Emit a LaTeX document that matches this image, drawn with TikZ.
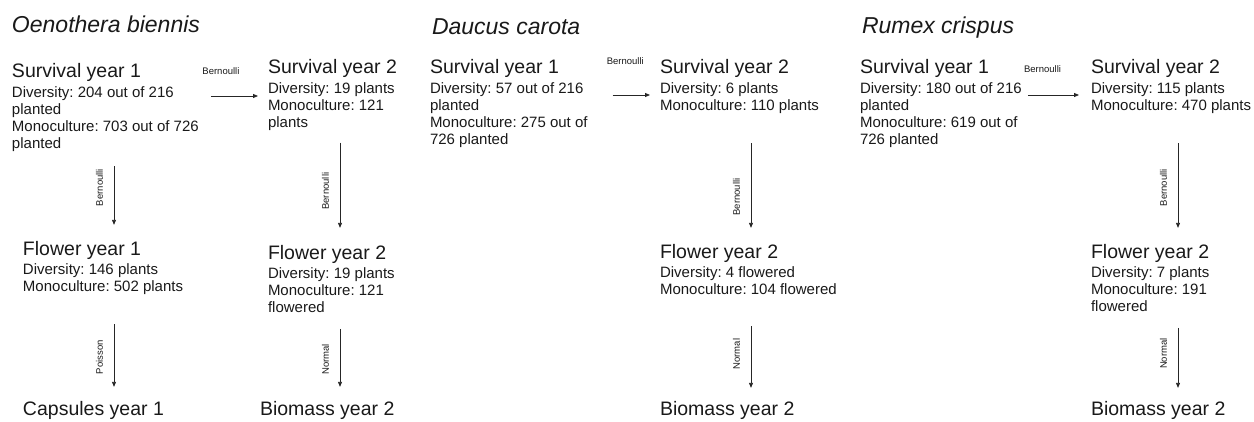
\documentclass[tikz,border=0pt]{standalone}
\usepackage{fontspec}
\setmainfont{Liberation Sans}
\usetikzlibrary{arrows.meta}
\frenchspacing

\begin{document}
\begin{tikzpicture}[
  x=1pt, y=-1pt,
  every node/.style={inner sep=0pt, outer sep=0pt, text=black!90},
  species/.style={anchor=base west, font=\fontsize{23}{26}\selectfont\itshape},
  stage/.style  ={anchor=base west, font=\fontsize{19.5}{22}\selectfont},
  % counts: anchored at the baseline of the last line
  counts/.style ={anchor=base west, align=left, font=\fontsize{15}{17.3}\selectfont},
  dist/.style   ={font=\fontsize{9.5}{10}\selectfont},
  hdist/.style  ={dist, anchor=base},
  vdist/.style  ={dist, xshift=-11pt, rotate=90, anchor=south},
  ar/.style     ={-{Triangle[length=5pt,width=4pt]}, line width=0.8pt, draw=black!85},
]
  \useasboundingbox (0,0) rectangle (1254,421);

  % ---- Oenothera biennis ----
  \node[species] (oe)     at (12,32)  {Oenothera biennis};
  \node[stage]   (oe-s1)  at (12,77)  {Survival year 1};
  \node[counts]  (oe-s1n) at (12,148.9) {Diversity: 204 out of 216\\planted\\Monoculture: 703 out of 726\\planted};
  \node[stage]   (oe-s2)  at (268,73) {Survival year 2};
  \node[counts]  (oe-s2n) at (268,127.6) {Diversity: 19 plants\\Monoculture: 121\\plants};
  \node[stage]   (oe-f1)  at (23,255) {Flower year 1};
  \node[counts]  (oe-f1n) at (23,291.3) {Diversity: 146 plants\\Monoculture: 502 plants};
  \node[stage]   (oe-f2)  at (268,259) {Flower year 2};
  \node[counts]  (oe-f2n) at (268,312.6) {Diversity: 19 plants\\Monoculture: 121\\flowered};
  \node[stage]   (oe-c1)  at (23,415) {Capsules year 1};
  \node[stage]   (oe-b2)  at (260,415) {Biomass year 2};

  % ---- Daucus carota ----
  \node[species] (dc)     at (432,34) {Daucus carota};
  \node[stage]   (dc-s1)  at (430,73) {Survival year 1};
  \node[counts]  (dc-s1n) at (430,144.9) {Diversity: 57 out of 216\\planted\\Monoculture: 275 out of\\726 planted};
  \node[stage]   (dc-s2)  at (660,73) {Survival year 2};
  \node[counts]  (dc-s2n) at (660,110.3) {Diversity: 6 plants\\Monoculture: 110 plants};
  \node[stage]   (dc-f2)  at (660,258) {Flower year 2};
  \node[counts]  (dc-f2n) at (660,294.3) {Diversity: 4 flowered\\Monoculture: 104 flowered};
  \node[stage]   (dc-b2)  at (660,415) {Biomass year 2};

  % ---- Rumex crispus ----
  \node[species] (rc)     at (862,33) {Rumex crispus};
  \node[stage]   (rc-s1)  at (860,73) {Survival year 1};
  \node[counts]  (rc-s1n) at (860,144.9) {Diversity: 180 out of 216\\planted\\Monoculture: 619 out of\\726 planted};
  \node[stage]   (rc-s2)  at (1091,73) {Survival year 2};
  \node[counts]  (rc-s2n) at (1091,110.3) {Diversity: 115 plants\\Monoculture: 470 plants};
  \node[stage]   (rc-f2)  at (1091,258) {Flower year 2};
  \node[counts]  (rc-f2n) at (1091,311.6) {Diversity: 7 plants\\Monoculture: 191\\flowered};
  \node[stage]   (rc-b2)  at (1091,415) {Biomass year 2};

  % ---- lanes for the arrows ----
  \coordinate (oe-row) at (0,96);
  \coordinate (dc-row) at (0,95);
  \coordinate (rc-row) at (0,95);
  \coordinate (oe-x1) at (114,0);
  \coordinate (oe-x2) at (340,0);
  \coordinate (dc-x2) at (751,0);
  \coordinate (rc-x2) at (1178,0);

  % ---- Oenothera arrows ----
  \draw[ar, shorten <=12pt, shorten >=10pt] (oe-s1n.east |- oe-row) --
    node[hdist, pos=.32, yshift=22pt] {Bernoulli} (oe-s2n.west |- oe-row);
  \draw[ar, shorten <=14pt, shorten >=16pt] (oe-s1n.south -| oe-x1) --
    node[vdist, pos=.40] {Bernoulli} (oe-f1.north -| oe-x1);
  \draw[ar, shorten <=12pt, shorten >=17pt] (oe-s2n.south -| oe-x2) --
    node[vdist, pos=.53] {Bernoulli} (oe-f2.north -| oe-x2);
  \draw[ar, shorten <=30pt, shorten >=14pt] (oe-f1n.south -| oe-x1) --
    node[vdist, pos=.59] {Poisson} (oe-c1.north -| oe-x1);
  \draw[ar, shorten <=16pt, shorten >=14pt] (oe-f2n.south -| oe-x2) --
    node[vdist, pos=.53] {Normal} (oe-b2.north -| oe-x2);

  % ---- Daucus arrows ----
  \draw[ar, shorten <=25pt, shorten >=10pt] (dc-s1n.east |- dc-row) --
    node[hdist, pos=.52, yshift=31pt] {Bernoulli} (dc-s2n.west |- dc-row);
  \draw[ar, shorten <=30pt, shorten >=16pt] (dc-s2n.south -| dc-x2) --
    node[vdist, pos=.64] {Bernoulli} (dc-f2.north -| dc-x2);
  \draw[ar, shorten <=32pt, shorten >=13pt] (dc-f2n.south -| dc-x2) --
    node[vdist, pos=.56] {Normal} (dc-b2.north -| dc-x2);

  % ---- Rumex arrows ----
  \draw[ar, shorten <=6pt, shorten >=12pt] (rc-s1n.east |- rc-row) --
    node[hdist, pos=.30, yshift=23pt] {Bernoulli} (rc-s2n.west |- rc-row);
  \draw[ar, shorten <=30pt, shorten >=16pt] (rc-s2n.south -| rc-x2) --
    node[vdist, pos=.57] {Bernoulli} (rc-f2.north -| rc-x2);
  \draw[ar, shorten <=16pt, shorten >=13pt] (rc-f2n.south -| rc-x2) --
    node[vdist, pos=.47] {Normal} (rc-b2.north -| rc-x2);
\end{tikzpicture}
\end{document}
